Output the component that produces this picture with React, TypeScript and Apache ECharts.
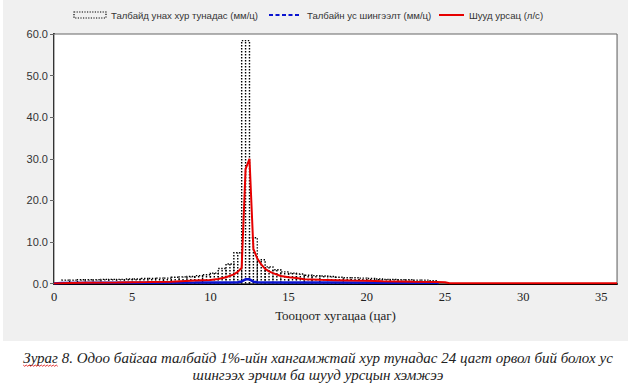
import React, { useEffect, useRef } from "react";
import * as echarts from "echarts";

// ---- data ----
const rainStartHours = [
  0.5, 1.0, 1.5, 2.0, 2.5, 3.0, 3.5, 4.0, 4.5, 5.0, 5.5, 6.0, 6.5, 7.0, 7.5, 8.0,
  8.5, 9.0, 9.5, 10.0, 10.5, 11.0, 11.5, 12.0, 12.5, 13.0, 13.5, 14.0, 14.5, 15.0,
  15.5, 16.0, 16.5, 17.0, 17.5, 18.0, 18.5, 19.0, 19.5, 20.0, 20.5, 21.0, 21.5,
  22.0, 22.5, 23.0, 23.5, 24.0,
];
const RAIN_STEP = 0.5;
const rainIntensity = [
  0.8, 0.8, 0.9, 0.9, 0.9, 1.0, 1.0, 1.0, 1.1, 1.1, 1.2, 1.2, 1.3, 1.3, 1.5, 1.6,
  1.7, 1.9, 2.1, 2.5, 3.6, 4.7, 7.4, 58.4, 11.0, 5.7, 4.0, 3.3, 2.8, 2.5,
  2.3, 2.0, 1.9, 1.8, 1.7, 1.5, 1.4, 1.4, 1.3, 1.2, 1.1, 1.0, 1.0,
  0.9, 0.9, 0.8, 0.8, 0.7,
];

const infilTime = [0, 0.5, 3, 6, 9, 11, 11.75, 12, 12.25, 12.5, 12.75, 13, 15, 18, 21, 24.5, 24.6];
const infilValue = [0, 0.15, 0.2, 0.2, 0.22, 0.25, 0.3, 0.5, 1.0, 1.0, 0.45, 0.3, 0.25, 0.22, 0.2, 0.2, 0];

const runoffTime = [
  0, 1, 2, 4, 6, 7.5, 9, 10, 10.5, 11, 11.5, 11.75, 12, 12.25, 12.5, 12.75, 13, 13.25,
  13.5, 13.75, 14, 14.5, 15, 15.5, 16, 17, 18, 19, 20, 21, 22, 23, 24.5, 25, 25.3, 30, 36,
];
const runoffValue = [
  0, 0.1, 0.2, 0.25, 0.35, 0.45, 0.7, 0.85, 1.1, 1.5, 2.2, 2.8, 3.8, 27.5, 30.0, 8.3, 6.0, 4.6,
  3.5, 2.9, 2.5, 1.8, 1.5, 1.3, 1.05, 0.9, 0.8, 0.7, 0.65, 0.55, 0.5, 0.4, 0.35, 0.3, 0.05, 0.05, 0.05,
];

const seriesNames = [
  "Талбайд унах хур тунадас (мм/ц)",
  "Талбайн ус шингээлт (мм/ц)",
  "Шууд урсац (л/с)",
];
const xAxisTitle = "Тооцоот хугацаа (цаг)";
const captionLines = [
  "Зураг 8. Одоо байгаа талбайд 1%-ийн хангамжтай хур тунадас 24 цагт орвол бий болох ус",
  "шингээх эрчим ба шууд урсцын хэмжээ",
];
const captionFirstWord = "Зураг";

const SANS = "'Liberation Sans', Arial, sans-serif";
const SERIF = "'Liberation Serif', 'Times New Roman', serif";
const CAPTION_FONT = `italic 15px ${SERIF}`;

function measure(text: string, font: string): number {
  const c = document.createElement("canvas");
  const ctx = c.getContext("2d");
  if (!ctx) return text.length * 7;
  ctx.font = font;
  return ctx.measureText(text).width;
}

export default function App() {
  const ref = useRef<HTMLDivElement>(null);

  useEffect(() => {
    document.body.style.margin = "0";
    const chart = echarts.init(ref.current!, null, { renderer: "svg" });

    const rainData = rainStartHours.map((s, i) => [s, s + RAIN_STEP, rainIntensity[i]]);
    const dotted = { stroke: "#000", lineWidth: 1.4, lineDash: [1.4, 1.6], fill: null };

    const capCx = 318;
    const capY1 = 358;
    const capY2 = 375;
    const lineW = measure(captionLines[0], CAPTION_FONT);
    const wordW = measure(captionFirstWord, CAPTION_FONT);
    const sqX0 = capCx - lineW / 2;
    const sqY = capY1 + 7;
    const squiggle: number[][] = [];
    for (let x = 0, k = 0; x <= wordW; x += 1.5, k++) {
      squiggle.push([sqX0 + x, sqY + (k % 2 === 0 ? 0 : 1.3)]);
    }

    const option: any = {
      animation: false,
      backgroundColor: "#ffffff",
      grid: {
        left: 54,
        right: 22,
        top: 34,
        bottom: 104.5,
        show: true,
        backgroundColor: "#ffffff",
        borderColor: "#666",
        borderWidth: 1,
        z: 1,
      },
      xAxis: {
        type: "value",
        min: 0,
        max: 36,
        interval: 5,
        name: xAxisTitle,
        nameLocation: "middle",
        nameGap: 25,
        nameTextStyle: { fontFamily: SERIF, fontSize: 13, color: "#222" },
        axisLine: { show: true, onZero: false, lineStyle: { color: "#000", width: 2 } },
        axisTick: { show: false },
        axisLabel: { fontFamily: SERIF, fontSize: 12.5, color: "#222", margin: 7, showMaxLabel: false },
        splitLine: { show: true, lineStyle: { color: "#d6d6d6", width: 1 } },
      },
      yAxis: {
        type: "value",
        min: 0,
        max: 60,
        interval: 10,
        axisLine: { show: true, onZero: false, lineStyle: { color: "#000", width: 2 } },
        axisTick: { show: true, length: 4, lineStyle: { color: "#666", width: 1 } },
        axisLabel: {
          fontFamily: SANS,
          fontSize: 11,
          color: "#333",
          margin: 6,
          formatter: (v: number) => v.toFixed(1),
        },
        splitLine: { show: true, lineStyle: { color: "#d6d6d6", width: 1 } },
      },
      series: [
        {
          name: seriesNames[0],
          type: "custom",
          data: rainData,
          encode: { x: [0, 1], y: 2 },
          z: 2,
          renderItem: (params: any, api: any) => {
            const s = api.value(0);
            const e = api.value(1);
            const v = api.value(2);
            const p0 = api.coord([s, 0]);
            const p1 = api.coord([e, v]);
            const pm = api.coord([(s + e) / 2, 0]);
            return {
              type: "group",
              children: [
                {
                  type: "polyline",
                  shape: { points: [[p0[0], p0[1]], [p0[0], p1[1]], [p1[0], p1[1]], [p1[0], p0[1]]] },
                  style: dotted,
                },
                {
                  type: "line",
                  shape: { x1: pm[0], y1: p0[1], x2: pm[0], y2: p1[1] },
                  style: dotted,
                },
              ],
            };
          },
        },
        {
          name: seriesNames[1],
          type: "line",
          data: infilTime.map((t, i) => [t, infilValue[i]]),
          showSymbol: false,
          z: 3,
          lineStyle: { color: "#0a14d0", width: 2.5 },
        },
        {
          name: seriesNames[2],
          type: "line",
          data: runoffTime.map((t, i) => [t, runoffValue[i]]),
          showSymbol: false,
          z: 4,
          lineStyle: { color: "#e60000", width: 2 },
        },
      ],
      graphic: [
        {
          type: "rect",
          z: -100,
          silent: true,
          shape: { x: 3, y: 0, width: 625, height: 341 },
          style: { fill: "#f0f0f0" },
        },
        // legend
        {
          type: "rect",
          z: 10,
          shape: { x: 74, y: 12, width: 32, height: 6 },
          style: { stroke: "#000", lineWidth: 1.2, lineDash: [1.2, 1.4], fill: null },
        },
        {
          type: "text",
          z: 10,
          x: 111,
          y: 15,
          style: { text: seriesNames[0], font: `9.6px ${SANS}`, fill: "#333", verticalAlign: "middle" },
        },
        {
          type: "line",
          z: 10,
          shape: { x1: 269, y1: 15, x2: 301, y2: 15 },
          style: { stroke: "#0a14d0", lineWidth: 2, lineDash: [4, 2.5] },
        },
        {
          type: "text",
          z: 10,
          x: 307,
          y: 15,
          style: { text: seriesNames[1], font: `9.6px ${SANS}`, fill: "#333", verticalAlign: "middle" },
        },
        {
          type: "line",
          z: 10,
          shape: { x1: 439, y1: 15, x2: 464, y2: 15 },
          style: { stroke: "#e60000", lineWidth: 2 },
        },
        {
          type: "text",
          z: 10,
          x: 469,
          y: 15,
          style: { text: seriesNames[2], font: `9.6px ${SANS}`, fill: "#333", verticalAlign: "middle" },
        },
        // caption
        {
          type: "text",
          z: 10,
          x: capCx,
          y: capY1,
          style: {
            text: captionLines[0],
            font: CAPTION_FONT,
            fill: "#222",
            align: "center",
            verticalAlign: "middle",
          },
        },
        {
          type: "polyline",
          z: 11,
          silent: true,
          shape: { points: squiggle },
          style: { stroke: "#e02020", lineWidth: 0.9, fill: null },
        },
        {
          type: "text",
          z: 10,
          x: capCx,
          y: capY2,
          style: {
            text: captionLines[1],
            font: CAPTION_FONT,
            fill: "#222",
            align: "center",
            verticalAlign: "middle",
          },
        },
      ],
    };

    chart.setOption(option);
    return () => chart.dispose();
  }, []);

  return <div ref={ref} style={{ width: 639, height: 388 }} />;
}
